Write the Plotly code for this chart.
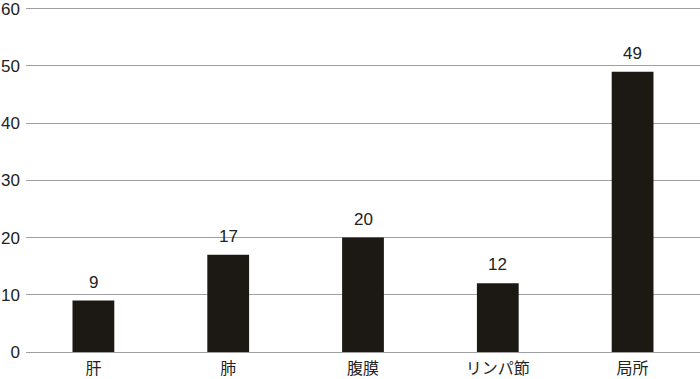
import plotly.graph_objects as go

categories = ["肝", "肺", "腹膜", "リンパ節", "局所"]
values = [9, 17, 20, 12, 49]
y_ticks = [0, 10, 20, 30, 40, 50, 60]

fig = go.Figure(go.Bar(
    x=categories, y=values,
    marker=dict(color="#1c1814", line=dict(width=0)),
))
for c, v in zip(categories, values):
    fig.add_annotation(x=c, y=v, text=str(v), showarrow=False, yanchor="bottom",
                       yshift=7, font=dict(size=17, color="#222",
                                           family="Liberation Sans"))
fig.update_layout(
    width=700, height=379,
    margin=dict(l=26, r=0, t=7, b=27),
    plot_bgcolor="white", paper_bgcolor="white",
    bargap=0.69, showlegend=False,
    font=dict(family="Liberation Sans, Noto Sans CJK JP", size=17, color="#222"),
)
fig.update_yaxes(range=[0, 60.3], tickvals=y_ticks, showgrid=True, gridcolor="#a0a0a0",
                 gridwidth=1, zeroline=True, zerolinecolor="#a0a0a0", zerolinewidth=1,
                 showline=False, ticks="", ticklabelstandoff=5, automargin=False,
                 ticklabeloverflow="allow",
                 tickfont=dict(size=17, color="#222", family="Liberation Sans"))
fig.update_xaxes(showline=False, ticks="", ticklabelstandoff=5, automargin=False,
                 ticklabeloverflow="allow",
                 tickfont=dict(size=16, color="#222", family="Noto Sans CJK JP"))
fig.write_html("out.html")
